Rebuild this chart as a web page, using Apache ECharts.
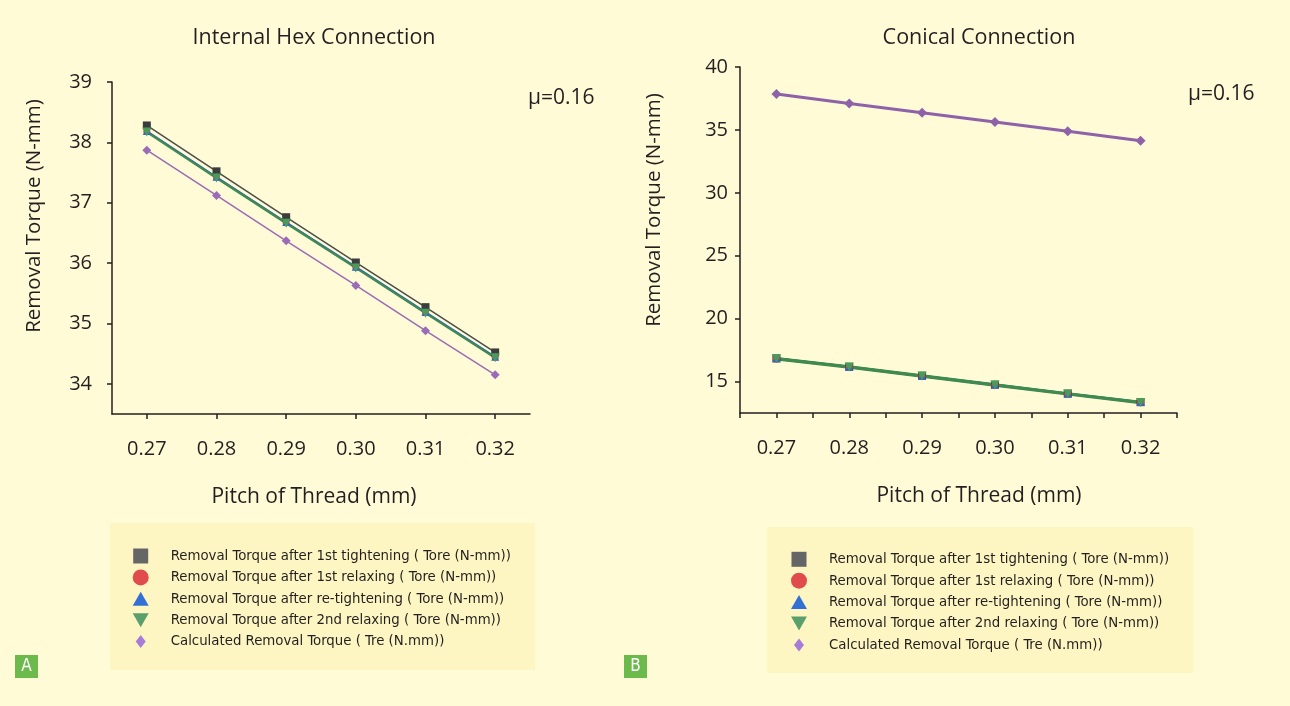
<!DOCTYPE html>
<html>
<head>
<meta charset="utf-8">
<script src="https://cdn.jsdelivr.net/npm/echarts@6/dist/echarts.min.js"></script>
<style>
  html, body { margin: 0; padding: 0; background: #fffbd7; }
  #chart { width: 1290px; height: 706px; }
</style>
</head>
<body>
<div id="chart"></div>
<script>
// pitch of thread (mm), shared by both panels
const pitch = [0.27, 0.28, 0.29, 0.30, 0.31, 0.32];

// panel A - internal hex connection
const hexTightening1 = [38.28, 37.52, 36.76, 36.01, 35.27, 34.52];
const hexRelaxing1 = [38.18, 37.42, 36.67, 35.93, 35.18, 34.44];
const hexRetightening = [38.19, 37.43, 36.68, 35.94, 35.19, 34.45];
const hexRelaxing2 = [38.17, 37.41, 36.66, 35.92, 35.17, 34.43];
const hexCalculated = [37.87, 37.12, 36.37, 35.63, 34.88, 34.15];

// panel B - conical connection
const conTightening1 = [16.84, 16.17, 15.46, 14.75, 14.04, 13.36];
const conRelaxing1 = [16.80, 16.13, 15.42, 14.71, 14.00, 13.32];
const conRetightening = [16.86, 16.18, 15.47, 14.76, 14.05, 13.37];
const conRelaxing2 = [16.82, 16.16, 15.44, 14.73, 14.02, 13.34];
const conCalculated = [37.86, 37.10, 36.36, 35.62, 34.89, 34.14];

// ticks
const hexYTicks = [34, 35, 36, 37, 38, 39];
const conYTicks = [15, 20, 25, 30, 35, 40];
const pitchTicks = [0.27, 0.28, 0.29, 0.30, 0.31, 0.32];
const conPitchMinorTicks = [0.265, 0.27, 0.275, 0.28, 0.285, 0.29, 0.295, 0.30, 0.305, 0.31, 0.315, 0.32, 0.325];

const names = [
  'Removal Torque after 1st tightening ( Tore (N-mm))',
  'Removal Torque after 1st relaxing ( Tore (N-mm))',
  'Removal Torque after re-tightening ( Tore (N-mm))',
  'Removal Torque after 2nd relaxing ( Tore (N-mm))',
  'Calculated Removal Torque ( Tre (N.mm))'
];

const INK = '#231f20';
const FONT = '"Open Sans", "Noto Sans", sans-serif';
const NARROW = '"Liberation Sans Narrow", "DejaVu Sans Condensed", sans-serif';
const DOWN_TRI = 'path://M0,0 L10,0 L5,9 Z';

const pairs = vals => pitch.map((p, i) => [p, vals[i]]);

function xAxisFor(gridIndex, tickValues, namePadding) {
  return {
    type: 'value',
    gridIndex,
    min: 0.265,
    max: 0.325,
    name: 'Pitch of Thread (mm)',
    nameLocation: 'middle',
    nameGap: 73,
    nameTextStyle: { fontFamily: FONT, fontSize: 21, color: INK, padding: namePadding },
    axisLine: { lineStyle: { color: INK, width: 1.5 } },
    axisTick: { length: 5, customValues: tickValues, lineStyle: { color: INK, width: 1.5 } },
    axisLabel: {
      customValues: pitchTicks,
      margin: 25,
      fontFamily: FONT,
      fontSize: 20,
      color: INK,
      formatter: v => v.toFixed(2)
    },
    splitLine: { show: false }
  };
}

function yAxisFor(gridIndex, min, max, ticks, nameGap, labelMargin, lift) {
  return {
    type: 'value',
    gridIndex,
    min,
    max,
    name: 'Removal Torque (N-mm)',
    nameLocation: 'middle',
    nameGap,
    nameTextStyle: { fontFamily: FONT, fontSize: 20.5, color: INK, padding: [0, 0, 0, lift * 2] },
    axisLine: { show: true, lineStyle: { color: INK, width: 1.5 } },
    axisTick: { show: true, length: 5, customValues: ticks, lineStyle: { color: INK, width: 1.5 } },
    axisLabel: { customValues: ticks, margin: labelMargin, fontFamily: FONT, fontSize: 20, color: INK },
    splitLine: { show: false }
  };
}

function line(idx, name, vals, color, lineColor, width, symbol, size) {
  return {
    type: 'line',
    name,
    xAxisIndex: idx,
    yAxisIndex: idx,
    data: pairs(vals),
    symbol,
    symbolSize: size,
    color,
    itemStyle: { color },
    lineStyle: { color: lineColor, width },
    animation: false
  };
}

function legendFor(left, top) {
  return {
    orient: 'vertical',
    left,
    top,
    itemWidth: 40,
    itemHeight: 16,
    itemGap: 5.4,
    selectedMode: false,
    textStyle: { fontFamily: NARROW, fontSize: 14.8, color: INK, padding: [0, 0, 0, 5] },
    data: [
      { name: names[0], icon: 'path://M0,0 M16,16 M0.5,0.5 L15.5,0.5 L15.5,15.5 L0.5,15.5 Z', itemStyle: { color: '#666666' } },
      { name: names[1], icon: 'circle', itemStyle: { color: '#e04b4b' } },
      { name: names[2], icon: 'path://M0,0 M16,16 M8,1 L16,15 L0,15 Z', itemStyle: { color: '#3370d6' } },
      { name: names[3], icon: 'path://M0,0 M16,16 M0,1 L16,1 L8,15 Z', itemStyle: { color: '#5aa06c' } },
      { name: names[4], icon: 'path://M0,0 M16,16 M8,1.5 L13,8 L8,14.5 L3,8 Z', itemStyle: { color: '#a77bd8' } }
    ]
  };
}

const chart = echarts.init(document.getElementById('chart'));

chart.setOption({
  backgroundColor: '#fffbd7',
  animation: false,
  title: [
    { text: 'Internal Hex Connection', left: 309, top: 22, textAlign: 'center',
      textStyle: { fontFamily: FONT, fontSize: 21.5, fontWeight: 'normal', color: INK } },
    { text: 'Conical Connection', left: 974, top: 22, textAlign: 'center',
      textStyle: { fontFamily: FONT, fontSize: 21.5, fontWeight: 'normal', color: INK } }
  ],
  grid: [
    { left: 112, top: 82, width: 418, height: 332 },
    { left: 740, top: 67, width: 437, height: 346 }
  ],
  xAxis: [xAxisFor(0, pitchTicks, [0, 14, 0, 0]), xAxisFor(1, conPitchMinorTicks, [0, 0, 0, 41])],
  yAxis: [yAxisFor(0, 33.5, 39, hexYTicks, 67, 20, 32), yAxisFor(1, 12.5, 40, conYTicks, 75, 12, 30)],
  legend: [legendFor(127.7, 543), legendFor(786, 546.3)],
  graphic: [
    { type: 'rect', z: -10, shape: { x: 110, y: 523, width: 425, height: 147 }, style: { fill: '#fef6c2' } },
    { type: 'rect', z: -10, shape: { x: 767, y: 527, width: 426, height: 146 }, style: { fill: '#fef6c2' } },
    { type: 'text', left: 528, top: 88, style: { text: 'μ=0.16', font: '21px ' + FONT, fill: INK } },
    { type: 'text', left: 1188, top: 84, style: { text: 'μ=0.16', font: '21px ' + FONT, fill: INK } },
    { type: 'rect', shape: { x: 15, y: 655, width: 23, height: 23 }, style: { fill: '#6cba4c' } },
    { type: 'text', x: 26.5, y: 666.5, style: { text: 'A', font: '17px ' + NARROW, fill: '#ffffff', align: 'center', verticalAlign: 'middle' } },
    { type: 'rect', shape: { x: 624, y: 655, width: 23, height: 23 }, style: { fill: '#6cba4c' } },
    { type: 'text', x: 635.5, y: 666.5, style: { text: 'B', font: '17px ' + NARROW, fill: '#ffffff', align: 'center', verticalAlign: 'middle' } }
  ],
  series: [
    line(0, names[4], hexCalculated, '#9a6cb8', '#9a6cb8', 1.5, 'diamond', 9),
    line(0, names[0], hexTightening1, '#3c3c3c', '#4d4d4b', 1.5, 'rect', 8),
    line(0, names[1], hexRelaxing1, '#d94a4a', '#d94a4a', 1.5, 'circle', 7),
    line(0, names[2], hexRetightening, '#2f66cc', '#2f66cc', 1.5, 'triangle', 8),
    line(0, names[3], hexRelaxing2, '#4a9a5a', '#3e8a4f', 2.2, DOWN_TRI, 9),

    line(1, names[4], conCalculated, '#8e62a8', '#8e62a8', 3, 'diamond', 10),
    line(1, names[0], conTightening1, '#3c3c3c', '#4d4d4b', 2, 'rect', 8),
    line(1, names[1], conRelaxing1, '#d94a4a', '#d94a4a', 2, 'circle', 7),
    line(1, names[2], conRetightening, '#2f66cc', '#2f66cc', 2, 'triangle', 8),
    line(1, names[3], conRelaxing2, '#4a9a5a', '#3e8a4f', 3.5, DOWN_TRI, 9)
  ]
});
</script>
</body>
</html>
